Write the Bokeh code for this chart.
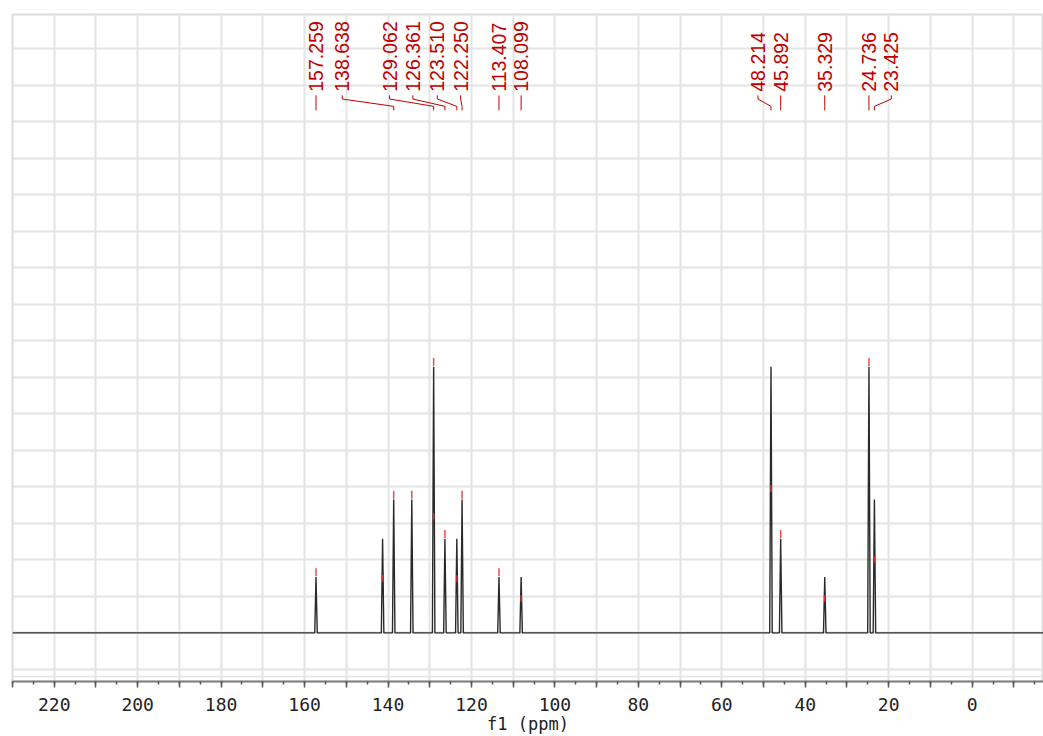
from math import pi
from bokeh.plotting import figure
from bokeh.models import Range1d, FixedTicker, Grid, Span
from bokeh.core.properties import value
from bokeh.embed import file_html
from bokeh.resources import INLINE

# ---- data (13C NMR peaks, ppm / relative intensity) ----
peak_ppm = [157.259, 141.30, 138.638, 134.30, 129.062, 126.361, 123.510, 122.250,
            113.407, 108.099, 48.214, 45.892, 35.329, 24.736, 23.425]
peak_intensity = [1.53, 2.58, 3.65, 3.65, 7.29, 2.58, 2.58, 3.65,
                  1.53, 1.53, 7.29, 2.58, 1.53, 7.29, 3.65]

label_ppm = [157.259, 138.638, 129.062, 126.361, 123.510, 122.250, 113.407,
             108.099, 48.214, 45.892, 35.329, 24.736, 23.425]
label_text = ["157.259", "138.638", "129.062", "126.361", "123.510", "122.250",
              "113.407", "108.099", "48.214", "45.892", "35.329", "24.736", "23.425"]

# peak-pick markers
top_mark_ppm = [157.259, 138.638, 134.30, 129.062, 126.361, 122.250, 113.407, 45.892, 24.736]
top_mark_int = [1.53, 3.65, 3.65, 7.29, 2.58, 3.65, 1.53, 2.58, 7.29]
mid_mark_ppm = [141.30, 129.062, 123.510, 108.099, 48.214, 35.329, 23.425]
mid_mark_int = [1.49, 3.19, 1.49, 0.94, 3.95, 0.94, 2.02]

x_tick_values = list(range(-10, 231, 10))
x_minor_values = list(range(-15, 231, 5))
x_tick_labels = {t: (str(t) if t % 20 == 0 else "") for t in x_tick_values}

# ---- layout (label column positions, ppm) ----
LABEL_POS = [157.259, 150.96, 139.62, 134.04, 128.19, 122.60, 113.407,
             108.099, 51.34, 45.892, 35.329, 24.736, 19.37]
X_LEFT, X_RIGHT = 230.0, -17.1
Y_BOTTOM, Y_TOP = -1.332, 16.935
TEXT_Y = 14.82
CONN_Y = [14.72, 14.62, 14.42, 14.31]
HALF_W = 0.3
RED = "#c00000"

p = figure(width=1043, height=736, output_backend="svg", toolbar_location=None,
           x_range=Range1d(X_LEFT, X_RIGHT), y_range=Range1d(Y_BOTTOM, Y_TOP),
           y_axis_location=None, min_border_left=12, min_border_right=0,
           min_border_top=14, min_border_bottom=54)
p.background_fill_color = "white"
p.border_fill_color = "white"
p.outline_line_color = "#dcdcdc"
p.outline_line_width = 2

# x axis
ax = p.xaxis[0]
ax.ticker = FixedTicker(ticks=x_tick_values, minor_ticks=x_minor_values)
ax.major_label_overrides = x_tick_labels
ax.axis_line_color = "#808080"
ax.axis_line_width = 2
ax.major_tick_line_color = "#555555"
ax.minor_tick_line_color = "#555555"
ax.major_tick_line_width = 1.5
ax.minor_tick_line_width = 1.5
ax.major_tick_in = 0
ax.major_tick_out = 6
ax.minor_tick_in = 0
ax.minor_tick_out = 3
ax.major_label_text_font = "DejaVu Sans Mono"
ax.major_label_text_font_size = "18px"
ax.major_label_text_color = "#222222"
ax.major_label_standoff = 10
ax.axis_label = "f1 (ppm)"
ax.axis_label_text_font = "DejaVu Sans Mono"
ax.axis_label_text_font_size = "17px"
ax.axis_label_text_font_style = "normal"
ax.axis_label_text_color = "#222222"
ax.axis_label_standoff = 0

p.xgrid.grid_line_color = "#e4e4e4"
p.xgrid.grid_line_width = 2
p.add_layout(Grid(dimension=1, ticker=FixedTicker(ticks=list(range(-1, 17))),
                  grid_line_color="#e4e4e4", grid_line_width=2))
p.add_layout(Span(location=-1.195, dimension="width", line_color="#e4e4e4", line_width=1.5))

# spectrum built from peak list
xs, ys = [X_LEFT], [0.0]
for ppm, h in sorted(zip(peak_ppm, peak_intensity), reverse=True):
    xs += [ppm + HALF_W, ppm, ppm - HALF_W]
    ys += [0.0, h, 0.0]
xs.append(X_RIGHT)
ys.append(0.0)
p.line(xs, ys, line_color="#2a2a2a", line_width=1.4)

# peak-pick markers
p.segment(x0=top_mark_ppm, x1=top_mark_ppm,
          y0=[h + 0.02 for h in top_mark_int], y1=[h + 0.24 for h in top_mark_int],
          line_color="#e05050", line_width=1.5)
p.segment(x0=mid_mark_ppm, x1=mid_mark_ppm,
          y0=[h - 0.09 for h in mid_mark_int], y1=[h + 0.09 for h in mid_mark_int],
          line_color="#d03030", line_width=1.5)

# peak labels and connectors
p.multi_line(xs=[[lx, lx, px, px] for lx, px in zip(LABEL_POS, label_ppm)],
             ys=[CONN_Y for _ in label_ppm], line_color=RED, line_width=1)
p.text(x=LABEL_POS, y=[TEXT_Y] * len(LABEL_POS), text=label_text, angle=pi / 2,
       text_align="left", text_baseline="middle", text_color=RED,
       text_font=value("Liberation Sans"), text_font_size=value("19.5px"))

open("out.html", "w").write(file_html(p, INLINE))
